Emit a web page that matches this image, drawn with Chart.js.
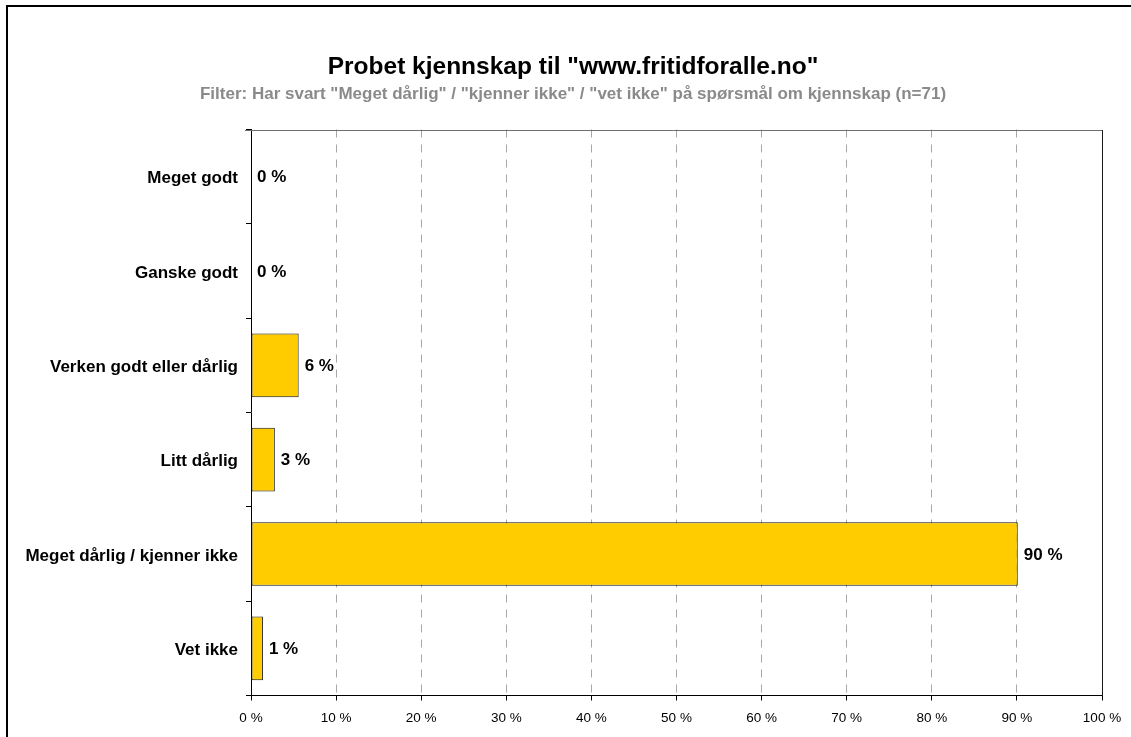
<!DOCTYPE html>
<html>
<head>
<meta charset="utf-8">
<script src="https://cdn.jsdelivr.net/npm/chart.js@4/dist/chart.umd.min.js"></script>
<style>
  html, body { margin: 0; padding: 0; background: #ffffff; }
  #wrap { width: 1131px; height: 737px; position: relative; }
</style>
</head>
<body>
<div id="wrap"><canvas id="c" width="1131" height="737"></canvas></div>
<script>
// ---- data ----
const categories = [
  "Meget godt",
  "Ganske godt",
  "Verken godt eller dårlig",
  "Litt dårlig",
  "Meget dårlig / kjenner ikke",
  "Vet ikke"
];
const values = [0, 0, 5.6, 2.8, 90.1, 1.4];
const xTickValues = [0, 10, 20, 30, 40, 50, 60, 70, 80, 90, 100];
const titleText = 'Probet kjennskap til "www.fritidforalle.no"';
const subtitleText = 'Filter: Har svart "Meget dårlig" / "kjenner ikke" / "vet ikke" på spørsmål om kjennskap (n=71)';

const FONT = "Arial, 'Liberation Sans', Helvetica, sans-serif";

const framePlugin = {
  id: 'frame',
  beforeDraw(chart) {
    const ctx = chart.ctx;
    ctx.save();
    ctx.fillStyle = '#ffffff';
    ctx.fillRect(0, 0, chart.width, chart.height);
    ctx.strokeStyle = '#000000';
    ctx.lineWidth = 2;
    ctx.beginPath();
    ctx.moveTo(7, chart.height + 5);
    ctx.lineTo(7, 6);
    ctx.lineTo(chart.width + 5, 6);
    ctx.stroke();
    // title and subtitle
    ctx.textAlign = 'center';
    ctx.textBaseline = 'alphabetic';
    ctx.fillStyle = '#000000';
    ctx.font = "bold 24.5px " + FONT;
    ctx.fillText(titleText, 573, 74);
    ctx.fillStyle = '#8a8a8a';
    ctx.font = "bold 17px " + FONT;
    ctx.fillText(subtitleText, 573, 98.5);
    ctx.restore();
  },
  afterDraw(chart) {
    const a = chart.chartArea;
    const ctx = chart.ctx;
    ctx.save();
    ctx.lineWidth = 1;
    ctx.strokeStyle = '#6e6e6e';
    ctx.beginPath();
    ctx.moveTo(a.left - 6, Math.round(a.top) + 0.5);
    ctx.lineTo(Math.round(a.right) + 0.5, Math.round(a.top) + 0.5);
    ctx.stroke();
    ctx.strokeStyle = '#1a1a1a';
    ctx.beginPath();
    ctx.moveTo(Math.round(a.right) + 0.5, Math.round(a.top));
    ctx.lineTo(Math.round(a.right) + 0.5, Math.round(a.bottom));
    ctx.stroke();
    ctx.restore();
  }
};

const labelPlugin = {
  id: 'barLabels',
  afterDatasetsDraw(chart) {
    const ctx = chart.ctx;
    const meta = chart.getDatasetMeta(0);
    ctx.save();
    ctx.font = "bold 17px " + FONT;
    ctx.fillStyle = '#000000';
    ctx.textAlign = 'left';
    ctx.textBaseline = 'middle';
    meta.data.forEach((bar, i) => {
      const v = chart.data.datasets[0].data[i];
      ctx.fillText(Math.round(v) + ' %', bar.x + 6, bar.y + 1);
    });
    ctx.restore();
  }
};

new Chart(document.getElementById('c'), {
  type: 'bar',
  data: {
    labels: categories,
    datasets: [{
      data: values,
      backgroundColor: '#FFCC00',
      borderColor: '#111111',
      borderWidth: 1,
      borderSkipped: false,
      barPercentage: 0.675,
      categoryPercentage: 1.0
    }]
  },
  options: {
    indexAxis: 'y',
    responsive: false,
    animation: false,
    devicePixelRatio: 1,
    layout: { padding: { left: 0, right: 29, top: 129.5, bottom: 0 } },
    plugins: {
      legend: { display: false },
      tooltip: { enabled: false },
      title: { display: false },
      subtitle: { display: false }
    },
    scales: {
      x: {
        type: 'linear',
        min: 0,
        max: 100,
        afterBuildTicks(scale) {
          scale.ticks = xTickValues.map(v => ({ value: v }));
        },
        afterFit(scale) { scale.height = 41.5; },
        ticks: {
          color: '#000000',
          padding: 9.5,
          maxRotation: 0,
          font: { family: FONT, size: 13.5 },
          callback: v => v + ' %'
        },
        grid: {
          color: ctx => (ctx.tick && (ctx.tick.value === 0 || ctx.tick.value === 100)) ? 'rgba(0,0,0,0)' : '#a8a8a8',
          lineWidth: 1,
          tickColor: '#000000',
          tickLength: 5,
          tickWidth: 1,
          tickBorderDash: []
        },
        border: { display: true, color: '#000000', width: 1, dash: [8, 7] }
      },
      y: {
        type: 'category',
        afterFit(scale) { scale.width = 251; },
        ticks: {
          color: '#000000',
          padding: 8,
          labelOffset: 2,
          font: { family: FONT, size: 17, weight: 'bold' }
        },
        grid: {
          display: true,
          drawOnChartArea: false,
          offset: true,
          color: '#000000',
          tickColor: '#000000',
          tickLength: 5
        },
        border: { display: true, color: '#000000', width: 1 }
      }
    }
  },
  plugins: [framePlugin, labelPlugin]
});
</script>
</body>
</html>
